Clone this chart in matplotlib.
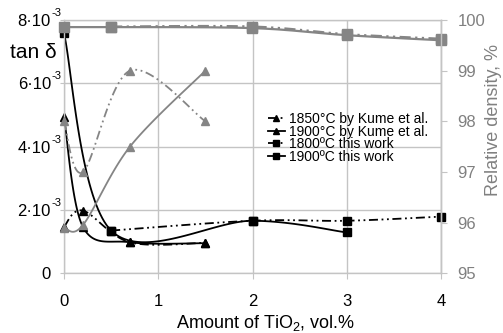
import numpy as np
import matplotlib
matplotlib.use("Agg")
import matplotlib.pyplot as plt
from matplotlib.lines import Line2D
from matplotlib import transforms

plt.rcParams['font.family'] = ['Liberation Sans', 'DejaVu Sans']
plt.rcParams['mathtext.fontset'] = 'custom'
plt.rcParams['mathtext.rm'] = 'Liberation Sans'
plt.rcParams['mathtext.it'] = 'Liberation Sans:italic'
plt.rcParams['mathtext.bf'] = 'Liberation Sans:bold'
plt.rcParams['mathtext.default'] = 'regular'

# ---- data -------------------------------------------------------------
# Kume et al.
x_kume = [0, 0.2, 0.7, 1.5]
tand_kume_1850 = [1.47e-3, 1.98e-3, 0.98e-3, 0.96e-3]
tand_kume_1900 = [4.95e-3, 1.47e-3, 0.98e-3, 0.95e-3]
dens_kume_1850 = [98.0, 97.0, 99.0, 98.0]
dens_kume_1900 = [95.9, 95.95, 97.5, 99.0]

# this work
x_work_1800 = [0.5, 2, 3, 4]
tand_work_1800 = [1.35e-3, 1.66e-3, 1.66e-3, 1.79e-3]
dens_work_1800 = [99.87, 99.87, 99.72, 99.63]

x_work_1900_tand = [0, 0.5, 2, 3]
tand_work_1900 = [7.58e-3, 1.35e-3, 1.66e-3, 1.29e-3]
x_work_1900_dens = [0, 0.5, 2, 3, 4]
dens_work_1900 = [99.86, 99.86, 99.84, 99.70, 99.60]

x_ticks = [0, 1, 2, 3, 4]
tand_ticks = [0, 2e-3, 4e-3, 6e-3, 8e-3]
tand_tick_mant = ['0', '2·10', '4·10', '6·10', '8·10']
tand_tick_exp = ['', '-3', '-3', '-3', '-3']
dens_ticks = [95, 96, 97, 98, 99, 100]

legend_labels = ['1850°C by Kume et al.', '1900°C by Kume et al.',
                 '1800ºC this work', '1900ºC this work']

BLACK = '#000000'
GRAY = '#858585'
GRID = '#c4c4c4'
DASHDOT = (0, (5, 2, 1, 2, 1, 2))


def smooth(xs, ys, n=40):
    """Bezier smoothing through the points (chart-style smoothed line)."""
    P = np.column_stack([xs, ys]).astype(float)
    out = [P[0]]
    t = np.linspace(0, 1, n)[1:, None]
    for i in range(len(P) - 1):
        p0 = P[i - 1] if i > 0 else P[i]
        p1, p2 = P[i], P[i + 1]
        p3 = P[i + 2] if i + 2 < len(P) else P[i + 1]
        c1 = p1 + (p2 - p0) / 6.0
        c2 = p2 - (p3 - p1) / 6.0
        seg = ((1 - t) ** 3 * p1 + 3 * (1 - t) ** 2 * t * c1
               + 3 * (1 - t) * t ** 2 * c2 + t ** 3 * p2)
        out.extend(seg)
    out = np.array(out)
    return out[:, 0], out[:, 1]


def series(axis, xs, ys, color, ls, marker, ms, lw=1.3):
    sx, sy = smooth(xs, ys)
    axis.plot(sx, sy, color=color, ls=ls, lw=lw, clip_on=False)
    axis.plot(xs, ys, ls='none', marker=marker, ms=ms, color=color,
              mec=color, clip_on=False)


W, H = 503, 333
fig = plt.figure(figsize=(W / 100, H / 100), dpi=100)
ax = fig.add_axes([64 / W, 1 - 273.3 / H, 377 / W, 253.3 / H])
ax2 = ax.twinx()

ax.set_xlim(0, 4)
ax.set_ylim(0, 8e-3)
ax2.set_ylim(95, 100)

# grid and frame
ax.set_xticks(x_ticks)
ax.set_yticks(tand_ticks)
ax.grid(True, color=GRID, lw=1.0)
ax.set_axisbelow(True)
for s in ax.spines.values():
    s.set_color(GRID)
    s.set_linewidth(1.0)
for name, s in ax2.spines.items():
    s.set_visible(name == 'right')
    s.set_color(GRID)
    s.set_linewidth(1.0)

ax.tick_params(axis='y', length=3, color=GRID, labelleft=False)
ax.tick_params(axis='x', length=4, color=GRID, labelsize=12, pad=11)

ax2.set_yticks(dens_ticks)
ax2.tick_params(axis='y', length=4, color=GRID, labelcolor='#808080',
                labelsize=12, pad=8)

# left tick labels: mantissa with superscript exponent
ytr = ax.get_yaxis_transform()
for v, m, e in zip(tand_ticks, tand_tick_mant, tand_tick_exp):
    base = transforms.offset_copy(ytr, fig=fig, x=-13 / 100 * 72, y=-1,
                                  units='points')
    ax.text(0, v, m, transform=base, ha='right', va='center', fontsize=12)
    if e:
        sup = transforms.offset_copy(ytr, fig=fig, x=-12.5 / 100 * 72,
                                     y=5, units='points')
        ax.text(0, v, e, transform=sup, ha='left', va='center', fontsize=8)

# Kume et al. tan delta (black) and density (gray)
series(ax, x_kume, tand_kume_1850, BLACK, DASHDOT, '^', 5.5)
series(ax, x_kume, tand_kume_1900, BLACK, '-', '^', 5.5)
series(ax2, x_kume, dens_kume_1850, GRAY, DASHDOT, '^', 5.5)
series(ax2, x_kume, dens_kume_1900, GRAY, '-', '^', 5.5)

# this work
series(ax, x_work_1800, tand_work_1800, BLACK, DASHDOT, 's', 6)
series(ax, x_work_1900_tand, tand_work_1900, BLACK, '-', 's', 6)
series(ax2, x_work_1800, dens_work_1800, GRAY, DASHDOT, 's', 6.5, lw=1.6)
series(ax2, x_work_1900_dens, dens_work_1900, GRAY, '-', 's', 6.5, lw=1.6)

handles = [
    Line2D([], [], color=BLACK, ls=DASHDOT, lw=1.3, marker='^', ms=5),
    Line2D([], [], color=BLACK, ls='-', lw=1.3, marker='^', ms=5),
    Line2D([], [], color=BLACK, ls=DASHDOT, lw=1.3, marker='s', ms=5),
    Line2D([], [], color=BLACK, ls='-', lw=1.3, marker='s', ms=5),
]
fig.legend(handles, legend_labels, loc='upper left',
           bbox_to_anchor=(268 / W, 1 - 112 / H), frameon=False,
           fontsize=10, handlelength=1.2, handletextpad=0.3,
           labelspacing=-0.1, borderpad=0, borderaxespad=0)

fig.text(10 / W, 1 - 58 / H, 'tan δ', ha='left', va='baseline', fontsize=15)
fig.text(266 / W, (H - 328) / H, 'Amount of TiO$_2$, vol.%', ha='center',
         va='baseline', fontsize=13)
fig.text(493 / W, 1 - 120.5 / H, 'Relative density, %', rotation=90,
         ha='center', va='center', fontsize=13, color='#808080')

fig.savefig('out.png', dpi=100)
